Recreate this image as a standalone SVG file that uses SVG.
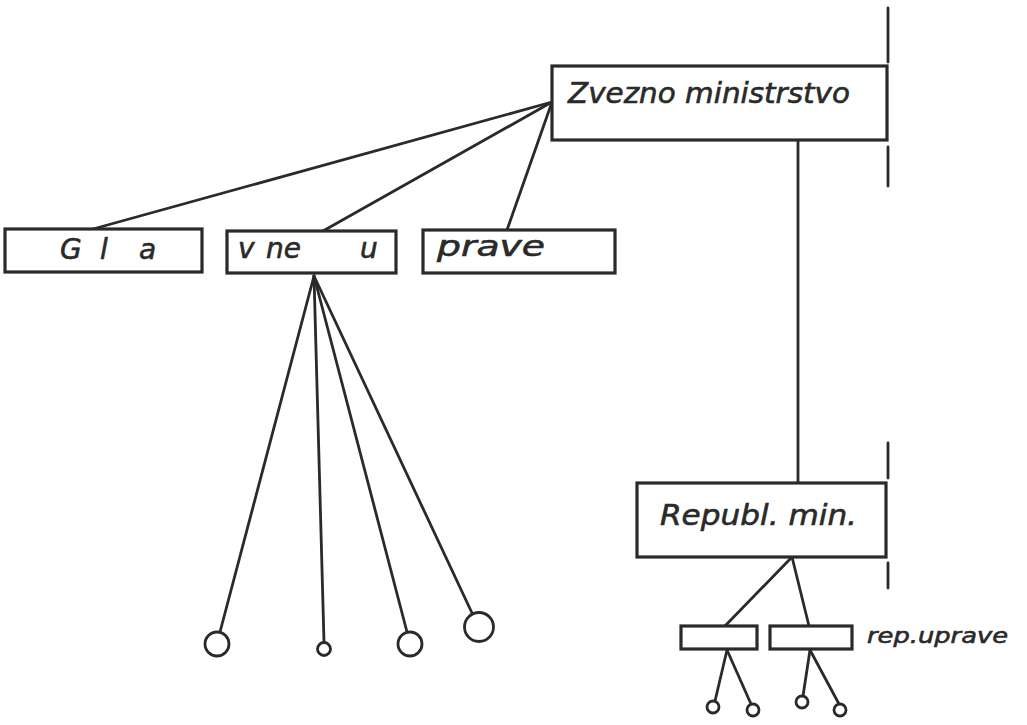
<svg xmlns="http://www.w3.org/2000/svg" width="1027" height="725" viewBox="0 0 1027 725">
<style>
.box{fill:#fff;stroke:#2a2a2a;stroke-width:3.2}
.ln{stroke:#2a2a2a;stroke-width:2.8;fill:none;stroke-linecap:round}
.c{fill:#fff;stroke:#2a2a2a;stroke-width:2.8}
.t{font-family:"DejaVu Sans","Liberation Sans",sans-serif;font-style:italic;fill:#2a2a2a;stroke:#2a2a2a;stroke-width:0.6}
</style>
<rect width="1027" height="725" fill="#fff"/>
<g id="connectors">
<line class="ln" x1="552" y1="102" x2="93" y2="229"/>
<line class="ln" x1="552" y1="102" x2="323" y2="231"/>
<line class="ln" x1="552" y1="102" x2="507" y2="230"/>
<line class="ln" x1="798" y1="140" x2="798" y2="483"/>
<line class="ln" x1="314" y1="276" x2="220" y2="632"/>
<line class="ln" x1="314" y1="276" x2="324" y2="642"/>
<line class="ln" x1="314" y1="276" x2="407" y2="632"/>
<line class="ln" x1="314" y1="276" x2="472" y2="613"/>
<line class="ln" x1="792" y1="557" x2="725" y2="626"/>
<line class="ln" x1="792" y1="557" x2="809" y2="626"/>
<line class="ln" x1="727" y1="650" x2="715" y2="701"/>
<line class="ln" x1="727" y1="650" x2="751" y2="704"/>
<line class="ln" x1="810" y1="650" x2="803" y2="696"/>
<line class="ln" x1="810" y1="650" x2="839" y2="704"/>
</g>
<g id="boundary">
<line class="ln" x1="888" y1="8" x2="888" y2="62"/>
<line class="ln" x1="888" y1="147" x2="888" y2="186"/>
<line class="ln" x1="888" y1="443" x2="888" y2="478"/>
<line class="ln" x1="888" y1="563" x2="888" y2="588"/>
</g>
<g id="zvezno">
<rect class="box" x="552" y="66" width="335" height="74"/>
<text class="t" x="568" y="103" font-size="28" textLength="282" lengthAdjust="spacingAndGlyphs">Zvezno ministrstvo</text>
</g>
<g id="gla">
<rect class="box" x="5" y="229" width="197" height="43"/>
<text class="t" font-size="28" y="259"><tspan x="60">G</tspan><tspan x="100">l</tspan><tspan x="139">a</tspan></text>
</g>
<g id="vneu">
<rect class="box" x="227" y="231" width="169" height="42"/>
<text class="t" font-size="28" y="258"><tspan x="238">v</tspan><tspan x="266">ne</tspan><tspan x="360">u</tspan></text>
</g>
<g id="prave">
<rect class="box" x="423" y="230" width="192" height="43"/>
<text class="t" x="437" y="256" font-size="28" textLength="108" lengthAdjust="spacingAndGlyphs">prave</text>
</g>
<g id="republ">
<rect class="box" x="637" y="483" width="249" height="74"/>
<text class="t" x="660" y="525" font-size="29" textLength="197" lengthAdjust="spacingAndGlyphs">Republ. min.</text>
</g>
<g id="rep1">
<rect class="box" x="681" y="626" width="76" height="23"/>
</g>
<g id="rep2">
<rect class="box" x="770" y="626" width="82" height="23"/>
</g>
<text id="rep-label" class="t" x="867" y="643" font-size="21" textLength="141" lengthAdjust="spacingAndGlyphs">rep.uprave</text>
<g id="circles">
<circle class="c" cx="217" cy="644" r="12"/>
<circle class="c" cx="324" cy="649" r="6.5"/>
<circle class="c" cx="410" cy="644" r="12"/>
<circle class="c" cx="479" cy="627" r="14.5"/>
<circle class="c" cx="713" cy="707" r="6"/>
<circle class="c" cx="753" cy="710" r="6"/>
<circle class="c" cx="802" cy="702" r="6"/>
<circle class="c" cx="840" cy="710" r="6"/>
</g>
</svg>
